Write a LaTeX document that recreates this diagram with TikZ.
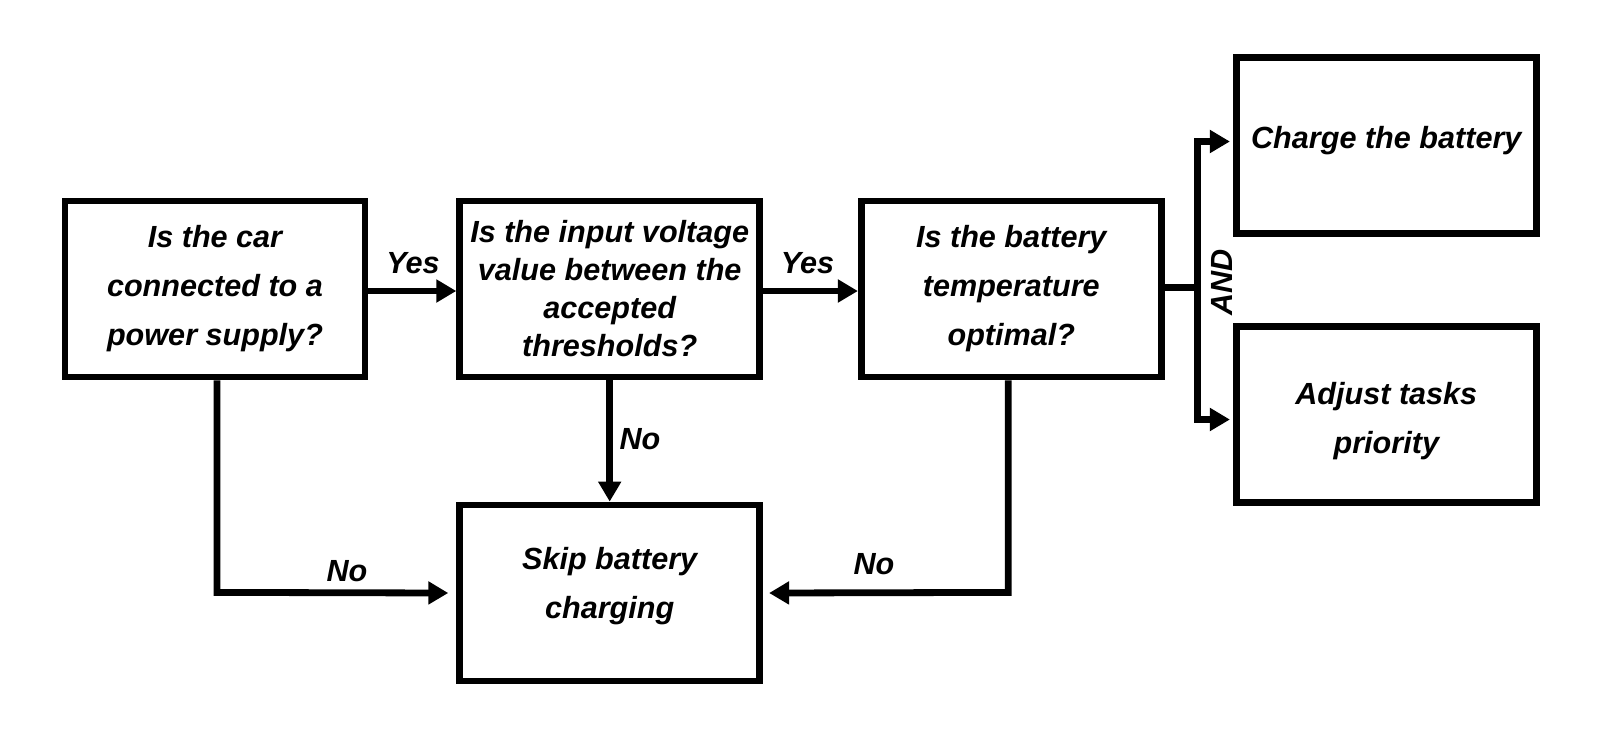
\documentclass[tikz,border=0pt]{standalone}
\usepackage{fontspec}
\setmainfont{Liberation Sans}
\usetikzlibrary{arrows.meta,calc}
\begin{document}
\begin{tikzpicture}[x=0.5pt,y=-0.5pt,
  box/.style={draw,line width=3.4pt,minimum width=150pt,minimum height=88pt,inner sep=2pt,align=center,font=\bfseries\itshape\fontsize{15.3}{24.5}\selectfont},
  conn/.style={line width=3.4pt},
  arr/.style={line width=3.4pt,-{Triangle[length=10pt,width=11pt]}},
  lbl/.style={font=\bfseries\itshape\fontsize{15.3}{18}\selectfont,inner sep=0pt}]
\useasboundingbox (0,0) rectangle (1600,729);
\node[box] (b1) at (215,289) {Is the car\\connected to a\\power supply?};
\node[box,font=\bfseries\itshape\fontsize{15.3}{19}\selectfont] (b2) at (609.7,289) {Is the input voltage\\value between the\\accepted\\thresholds?};
\node[box] (b3) at (1011.3,289) {Is the battery\\temperature\\optimal?};
\node[box,text depth=8.5pt] (b4) at (1386.3,145.5) {Charge the battery};
\node[box,text height=42.5pt] (b5) at (1386.3,414.5) {Adjust tasks\\priority};
\node[box,text depth=10pt] (b6) at (609.7,593) {Skip battery\\charging};
\coordinate (j) at (1197.7,287.3);
\coordinate (c1) at ($(b1.south)+(2,212)$);
\coordinate (c3) at ($(b3.south)+(-3,212)$);
\draw[arr] (b1.east |- 0,291) -- (b2.west |- 0,291);
\draw[arr] (b2.east |- 0,291) -- (b3.west |- 0,291);
\draw[conn] (b3.east |- j) -- (j);
\draw[arr] (j) |- ($(b4.west)+(-3,-4)$);
\draw[arr] (j) |- ($(b5.west)+(-3,5)$);
\draw[arr] (b2.south) -- (b6.north);
\draw[arr] ($(b1.south)+(2,0)$) -- (c1) -- ($(b6.west)+(-8,0)$);
\draw[arr] ($(b3.south)+(-3,0)$) -- (c3) -- ($(b6.east)+(6,0)$);
\node[lbl] (y1) at (413,263) {Yes};
\node[lbl] (y2) at (807.5,263.5) {Yes};
\node[lbl] (n1) at (347,571) {No};
\node[lbl] (n2) at (640,439) {No};
\node[lbl] (n3) at (874,564) {No};
\node[lbl,rotate=90] (and) at (1221.7,282.5) {AND};
\end{tikzpicture}
\end{document}
